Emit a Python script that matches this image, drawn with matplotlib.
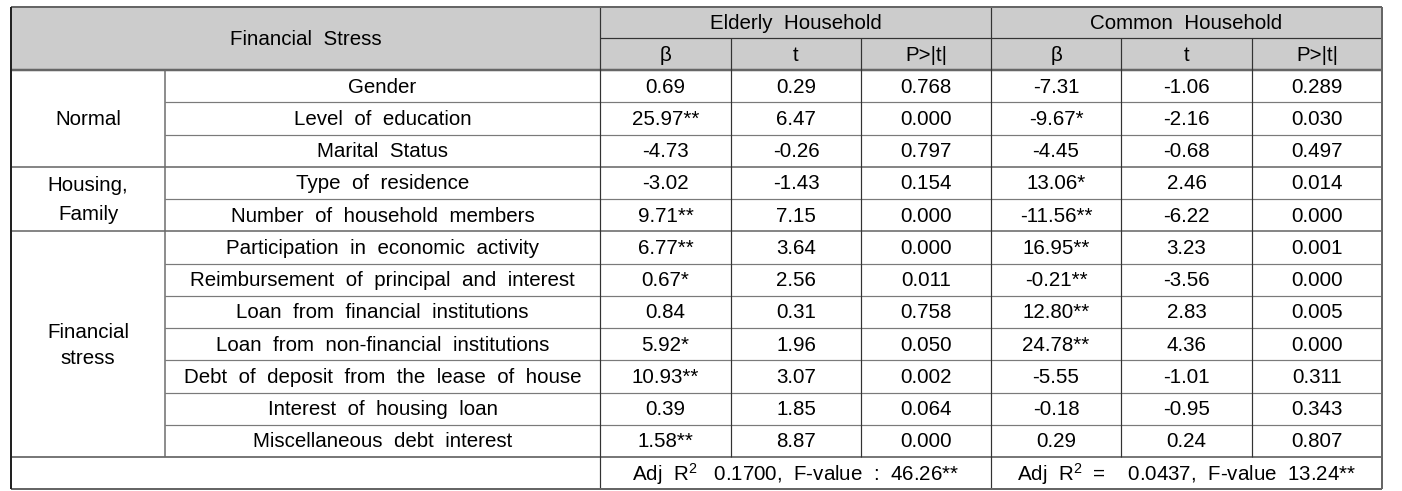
import matplotlib
matplotlib.use("Agg")
import matplotlib.pyplot as plt

plt.rcParams['font.family'] = ['Liberation Sans', 'DejaVu Sans']
plt.rcParams['mathtext.fontset'] = 'custom'
plt.rcParams['mathtext.rm'] = 'Liberation Sans'
plt.rcParams['mathtext.it'] = 'Liberation Sans'

# ---- data ----
title = "Financial  Stress"
groups = ["Normal", "Housing,\nFamily", "Financial\nstress"]
group_sizes = [3, 2, 7]
items = ["Gender", "Level  of  education", "Marital  Status",
         "Type  of  residence", "Number  of  household  members",
         "Participation  in  economic  activity",
         "Reimbursement  of  principal  and  interest",
         "Loan  from  financial  institutions",
         "Loan  from  non-financial  institutions",
         "Debt  of  deposit  from  the  lease  of  house",
         "Interest  of  housing  loan",
         "Miscellaneous  debt  interest"]
household_labels = ["Elderly  Household", "Common  Household"]
sub_labels = ["β", "t", "P>|t|"]
elderly_beta = ["0.69", "25.97**", "-4.73", "-3.02", "9.71**", "6.77**",
                "0.67*", "0.84", "5.92*", "10.93**", "0.39", "1.58**"]
elderly_t = ["0.29", "6.47", "-0.26", "-1.43", "7.15", "3.64",
             "2.56", "0.31", "1.96", "3.07", "1.85", "8.87"]
elderly_p = ["0.768", "0.000", "0.797", "0.154", "0.000", "0.000",
             "0.011", "0.758", "0.050", "0.002", "0.064", "0.000"]
common_beta = ["-7.31", "-9.67*", "-4.45", "13.06*", "-11.56**", "16.95**",
               "-0.21**", "12.80**", "24.78**", "-5.55", "-0.18", "0.29"]
common_t = ["-1.06", "-2.16", "-0.68", "2.46", "-6.22", "3.23",
            "-3.56", "2.83", "4.36", "-1.01", "-0.95", "0.24"]
common_p = ["0.289", "0.030", "0.497", "0.014", "0.000", "0.001",
            "0.000", "0.005", "0.000", "0.311", "0.343", "0.807"]
footer = ["Adj  R$^{2}$   0.1700,  F-value  :  46.26**",
          "Adj  R$^{2}$  =    0.0437,  F-value  13.24**"]

# ---- layout ----
W, H = 1402, 491
fig = plt.figure(figsize=(W / 100, H / 100), dpi=100)
ax = fig.add_axes([0, 0, 1, 1])
ax.set_xlim(0, W)
ax.set_ylim(H, 0)
ax.axis('off')

xs = [11, 165, 600, 731, 861, 991, 1121, 1252, 1382]
y_top, y_mid, y_head = 7, 38, 70
y_foot, y_bot = 457, 489
n = len(items)
rh = (y_foot - y_head) / n
row_y = [y_head + i * rh for i in range(n + 1)]

FS = 14.8
TXT = '#000000'
GRID = '#7a7a7a'
px = 0.72

# header fill
ax.add_patch(plt.Rectangle((xs[0], y_top), xs[-1] - xs[0], y_head - y_top,
                           facecolor='#cccccc', edgecolor='none', zorder=0))

def hline(y, x0, x1, color=GRID, w=1.0):
    ax.plot([x0, x1], [y, y], color=color, lw=w * px, solid_capstyle='butt', zorder=2)

def vline(x, y0, y1, color=GRID, w=1.0):
    ax.plot([x, x], [y0, y1], color=color, lw=w * px, solid_capstyle='butt', zorder=2)

# horizontal lines
hline(y_mid, xs[2], xs[-1], '#333333', 1.2)
hline(y_head, xs[0], xs[-1], '#666666', 2.5)
bounds = []
acc = 0
for s in group_sizes[:-1]:
    acc += s
    bounds.append(acc)
for i in range(1, n):
    if i in bounds:
        hline(row_y[i], xs[0], xs[-1], '#6a6a6a', 1.6)
    else:
        hline(row_y[i], xs[1], xs[-1], GRID, 1.2)
hline(y_foot, xs[0], xs[-1], '#6a6a6a', 1.8)

# vertical lines
vline(xs[1], y_head, y_foot, '#6a6a6a', 1.5)
for x in [xs[2], xs[5]]:
    vline(x, y_top, y_bot, '#333333', 1.2)
for x in [xs[3], xs[4], xs[6], xs[7]]:
    vline(x, y_mid, y_foot, '#333333', 1.2)

# outer border
hline(y_top, xs[0], xs[-1], '#666666', 2.0)
hline(y_bot, xs[0], xs[-1], '#666666', 2.0)
vline(xs[0], y_top, y_bot, '#222222', 2.0)
vline(xs[-1], y_top, y_bot, '#666666', 2.0)

def cell(x0, x1, y0, y1, s, ls=1.45, **kw):
    ax.text((x0 + x1) / 2, (y0 + y1) / 2 + 1, s, ha='center', va='center',
            fontsize=FS, color=TXT, linespacing=ls, **kw)

# header text
cell(xs[0], xs[2], y_top, y_head, title)
cell(xs[2], xs[5], y_top - 1, y_mid, household_labels[0])
cell(xs[5], xs[8], y_top - 1, y_mid, household_labels[1])
for k in range(3):
    cell(xs[2 + k], xs[3 + k], y_mid, y_head, sub_labels[k])
    cell(xs[5 + k], xs[6 + k], y_mid, y_head, sub_labels[k])

# groups
start = 0
for g, s in zip(groups, group_sizes):
    cell(xs[0], xs[1], row_y[start], row_y[start + s], g,
         ls=1.65 if s == 2 else 1.45)
    start += s

cols = [elderly_beta, elderly_t, elderly_p, common_beta, common_t, common_p]
for i in range(n):
    cell(xs[1], xs[2], row_y[i], row_y[i + 1], items[i])
    for c, col in enumerate(cols):
        cell(xs[2 + c], xs[3 + c], row_y[i], row_y[i + 1], col[i])

cell(xs[2], xs[5], y_foot, y_bot, footer[0])
cell(xs[5], xs[8], y_foot, y_bot, footer[1])

fig.savefig("out.png", dpi=100)
